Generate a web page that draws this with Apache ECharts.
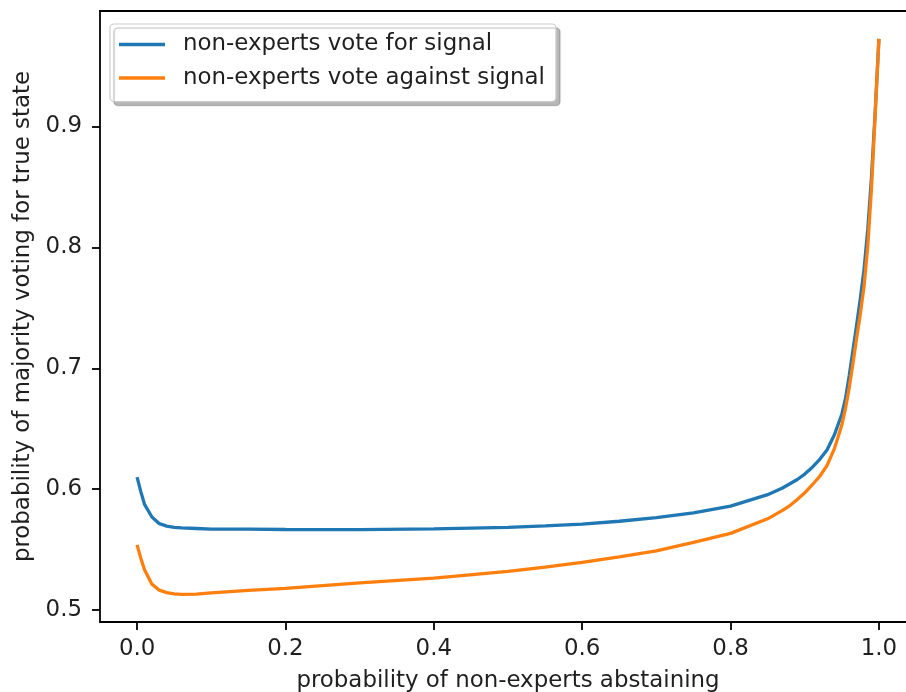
<!DOCTYPE html>
<html><head><meta charset="utf-8">
<script src="https://cdn.jsdelivr.net/npm/echarts@6/dist/echarts.min.js"></script>
<style>html,body{margin:0;padding:0;background:#fff}#c{width:906px;height:692px}</style>
</head><body><div id="c"></div>
<script>
const abstainProb   = [0, 0.005, 0.01, 0.02, 0.03, 0.04, 0.05, 0.06, 0.08, 0.1, 0.15, 0.2, 0.3, 0.4, 0.5, 0.55, 0.6, 0.65, 0.7, 0.75, 0.8, 0.85, 0.87, 0.88, 0.89, 0.9, 0.91, 0.92, 0.93, 0.94, 0.95, 0.955, 0.96, 0.965, 0.97, 0.975, 0.98, 0.985, 0.99, 0.995, 1.0];
const forSignal     = [0.610, 0.598, 0.5875, 0.577, 0.5715, 0.5695, 0.5685, 0.568, 0.5675, 0.567, 0.567, 0.5667, 0.5666, 0.5672, 0.5685, 0.5697, 0.5712, 0.5735, 0.5765, 0.5805, 0.586, 0.5955, 0.601, 0.6045, 0.608, 0.6125, 0.618, 0.6245, 0.6325, 0.645, 0.662, 0.675, 0.694, 0.715, 0.736, 0.758, 0.782, 0.815, 0.858, 0.912, 0.9724];
const againstSignal = [0.554, 0.543, 0.5335, 0.5215, 0.5165, 0.5145, 0.5135, 0.513, 0.5132, 0.5142, 0.5163, 0.518, 0.5225, 0.5265, 0.532, 0.5355, 0.5395, 0.544, 0.549, 0.556, 0.5635, 0.5755, 0.5825, 0.5865, 0.5915, 0.597, 0.6035, 0.6105, 0.6195, 0.6335, 0.653, 0.667, 0.684, 0.704, 0.725, 0.745, 0.768, 0.801, 0.849, 0.910, 0.9724];
const xTicks = [0, 0.2, 0.4, 0.6, 0.8, 1.0];
const yTicks = [0.5, 0.6, 0.7, 0.8, 0.9];
const seriesNames = ['non-experts vote for signal', 'non-experts vote against signal'];
const xTitle = 'probability of non-experts abstaining';
const yTitle = 'probability of majority voting for true state';

const FONT = 'DejaVu Sans';
const TXT = '#1f1f1f';
const chart = echarts.init(document.getElementById('c'), null, {renderer: 'canvas'});
const pair = (vals) => abstainProb.map((x, i) => [x, vals[i]]);
const axisLine = {show: true, onZero: false, lineStyle: {color: '#000', width: 1.8}};
chart.setOption({
  animation: false,
  backgroundColor: '#fff',
  textStyle: {fontFamily: FONT},
  grid: {left: 100, right: -10, top: 11, bottom: 70, outerBoundsMode: 'none', containLabel: false, show: false},
  legend: {
    left: 110, top: 24, orient: 'vertical',
    data: seriesNames,
    icon: 'rect',
    itemWidth: 46, itemHeight: 3.4, itemGap: 10.5,
    padding: [9, 11, 12, 9],
    backgroundColor: '#fff',
    borderColor: '#cccccc', borderWidth: 1.2, borderRadius: 4,
    shadowColor: 'rgba(0,0,0,0.28)', shadowBlur: 1, shadowOffsetX: 4, shadowOffsetY: 4,
    textStyle: {fontFamily: FONT, fontSize: 22.9, color: TXT, padding: [0, 0, 0, 13]}
  },
  xAxis: [{
    type: 'value', min: -0.05, max: 1.05, position: 'bottom',
    name: xTitle, nameLocation: 'middle', nameGap: 48,
    nameTextStyle: {fontFamily: FONT, fontSize: 22.9, color: TXT},
    splitLine: {show: false},
    axisLine: axisLine,
    axisTick: {show: true, inside: false, length: 8, lineStyle: {color: '#000', width: 1.8}, customValues: xTicks},
    axisLabel: {margin: 16, fontFamily: FONT, fontSize: 22.9, color: TXT, customValues: xTicks, formatter: v => v.toFixed(1)}
  }, {
    type: 'value', min: -0.05, max: 1.05, position: 'top',
    splitLine: {show: false}, axisLine: axisLine, axisTick: {show: false}, axisLabel: {show: false}
  }],
  yAxis: {
    type: 'value', min: 0.4902, max: 0.9954,
    name: yTitle, nameLocation: 'middle', nameGap: 64,
    nameTextStyle: {fontFamily: FONT, fontSize: 22.9, color: TXT},
    splitLine: {show: false},
    axisLine: axisLine,
    axisTick: {show: true, inside: false, length: 8, lineStyle: {color: '#000', width: 1.8}, customValues: yTicks},
    axisLabel: {margin: 18, fontFamily: FONT, fontSize: 22.9, color: TXT, customValues: yTicks, formatter: v => v.toFixed(1)}
  },
  series: [
    {name: seriesNames[0], type: 'line', xAxisIndex: 0, data: pair(forSignal), symbol: 'none', showSymbol: false,
     lineStyle: {color: '#1f77b4', width: 3.3}, itemStyle: {color: '#1f77b4'}},
    {name: seriesNames[1], type: 'line', xAxisIndex: 0, data: pair(againstSignal), symbol: 'none', showSymbol: false,
     lineStyle: {color: '#ff7f0e', width: 3.3}, itemStyle: {color: '#ff7f0e'}}
  ]
});
</script>
</body></html>
